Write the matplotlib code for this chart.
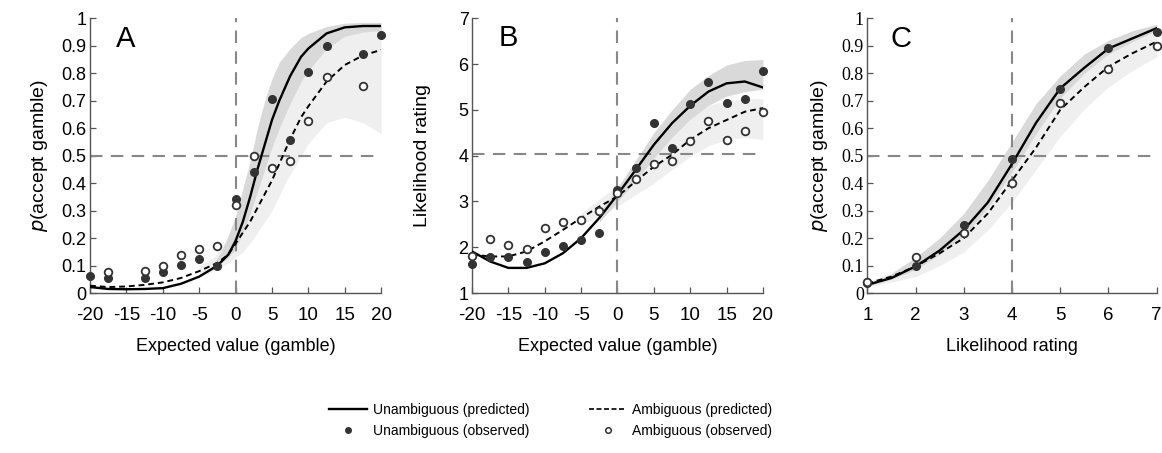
import matplotlib
matplotlib.use("Agg")
import matplotlib.pyplot as plt
from matplotlib.lines import Line2D
import numpy as np

plt.rcParams['font.family'] = ['Liberation Sans', 'DejaVu Sans']
plt.rcParams['axes.unicode_minus'] = False

# ---------------- Panel A : p(accept) vs expected value ----------------
ev_obs = [-20, -17.5, -12.5, -10, -7.5, -5, -2.5, 0, 2.5, 5, 7.5, 10, 12.5, 17.5, 20]
a_unamb_obs = [0.063, 0.055, 0.055, 0.075, 0.103, 0.125, 0.10, 0.343, 0.442, 0.705, 0.558, 0.804, 0.90, 0.87, 0.94]
ev_obs_amb = [-17.5, -12.5, -10, -7.5, -5, -2.5, 0, 2.5, 5, 7.5, 10, 12.5, 17.5]
a_amb_obs = [0.078, 0.082, 0.10, 0.14, 0.161, 0.17, 0.32, 0.50, 0.455, 0.48, 0.627, 0.788, 0.754]

ev_line = [-20, -17.5, -15, -12.5, -10, -7.5, -5, -2.5, -1, 0, 1, 2, 3, 4, 5, 6, 7.5, 9, 10, 12.5, 15, 17.5, 20]
a_unamb_pred = [0.022, 0.015, 0.014, 0.015, 0.018, 0.034, 0.06, 0.10, 0.14, 0.19, 0.26, 0.35, 0.45, 0.54, 0.63, 0.70, 0.79, 0.86, 0.89, 0.945, 0.967, 0.972, 0.972]
a_amb_pred = [0.027, 0.022, 0.024, 0.03, 0.039, 0.055, 0.08, 0.11, 0.14, 0.18, 0.22, 0.26, 0.31, 0.36, 0.41, 0.47, 0.56, 0.64, 0.68, 0.77, 0.83, 0.865, 0.885]

a_band_x = [-3, -2, -1, 0, 1, 2, 3, 4, 5, 6, 7.5, 9, 10, 12.5, 15, 17.5, 20]
a_unamb_lo = [0.09, 0.11, 0.13, 0.16, 0.22, 0.29, 0.37, 0.45, 0.53, 0.60, 0.69, 0.77, 0.81, 0.89, 0.935, 0.95, 0.955]
a_unamb_hi = [0.11, 0.15, 0.21, 0.28, 0.38, 0.48, 0.60, 0.70, 0.78, 0.84, 0.89, 0.93, 0.945, 0.97, 0.982, 0.985, 0.985]
a_amb_band_x = [-5, -3, -1, 0, 1, 2.5, 4, 5, 7, 9, 10, 12.5, 15, 17.5, 20]
a_amb_lo = [0.06, 0.08, 0.11, 0.13, 0.15, 0.20, 0.26, 0.30, 0.41, 0.50, 0.545, 0.62, 0.64, 0.62, 0.58]
a_amb_hi = [0.10, 0.13, 0.20, 0.25, 0.31, 0.40, 0.50, 0.57, 0.70, 0.80, 0.84, 0.90, 0.94, 0.955, 0.96]

# ---------------- Panel B : likelihood rating vs expected value ----------------
ev_b = [-20, -17.5, -15, -12.5, -10, -7.5, -5, -2.5, 0, 2.5, 5, 7.5, 10, 12.5, 15, 17.5, 20]
b_unamb_obs = [1.63, 1.78, 1.78, 1.68, 1.89, 2.02, 2.16, 2.32, 3.25, 3.73, 4.72, 4.16, 5.13, 5.60, 5.15, 5.23, 5.86]
b_amb_obs = [1.80, 2.18, 2.04, 1.96, 2.42, 2.56, 2.60, 2.80, 3.18, 3.49, 3.81, 3.89, 4.33, 4.75, 4.35, 4.53, 4.96]
b_unamb_pred = [1.91, 1.69, 1.55, 1.55, 1.65, 1.87, 2.20, 2.64, 3.15, 3.69, 4.24, 4.71, 5.09, 5.40, 5.58, 5.62, 5.49]
b_amb_pred = [1.84, 1.80, 1.80, 1.91, 2.13, 2.38, 2.64, 2.89, 3.11, 3.44, 3.76, 4.02, 4.35, 4.60, 4.78, 4.96, 5.04]

b_band_x = [-2.5, 0, 2.5, 5, 7.5, 10, 12.5, 15, 17.5, 20]
b_unamb_lo = [2.55, 3.00, 3.45, 3.95, 4.40, 4.80, 5.10, 5.30, 5.40, 5.45]
b_unamb_hi = [2.75, 3.30, 3.90, 4.50, 5.00, 5.45, 5.75, 5.98, 6.08, 6.10]
b_amb_band_x = [-5, -2.5, 0, 2.5, 5, 7.5, 10, 12.5, 15, 17.5, 20]
b_amb_lo = [2.50, 2.67, 2.90, 3.15, 3.40, 3.70, 3.98, 4.22, 4.35, 4.40, 4.35]
b_amb_hi = [2.75, 3.05, 3.35, 3.70, 4.10, 4.50, 4.85, 5.10, 5.20, 5.25, 5.25]

# ---------------- Panel C : p(accept) vs likelihood rating ----------------
lr_obs = [1, 2, 3, 4, 5, 6, 7]
c_unamb_obs = [0.035, 0.10, 0.248, 0.488, 0.742, 0.891, 0.949]
c_amb_obs = [0.042, 0.131, 0.218, 0.402, 0.693, 0.815, 0.90]

lr_line = [1, 1.5, 2, 2.5, 3, 3.5, 4, 4.5, 5, 5.5, 6, 6.5, 7]
c_unamb_pred = [0.03, 0.055, 0.097, 0.155, 0.23, 0.33, 0.47, 0.62, 0.745, 0.82, 0.89, 0.927, 0.964]
c_amb_pred = [0.035, 0.06, 0.097, 0.145, 0.20, 0.29, 0.41, 0.53, 0.667, 0.75, 0.824, 0.873, 0.915]
c_unamb_lo = [0.025, 0.05, 0.085, 0.14, 0.21, 0.31, 0.44, 0.58, 0.71, 0.80, 0.87, 0.915, 0.955]
c_unamb_hi = [0.035, 0.07, 0.13, 0.20, 0.29, 0.41, 0.55, 0.69, 0.79, 0.87, 0.92, 0.955, 0.978]
c_amb_lo = [0.025, 0.04, 0.06, 0.10, 0.15, 0.23, 0.33, 0.45, 0.57, 0.67, 0.75, 0.81, 0.86]
c_amb_hi = [0.04, 0.075, 0.13, 0.19, 0.26, 0.37, 0.50, 0.63, 0.75, 0.83, 0.89, 0.93, 0.96]

DARK_BAND = '#d9d9d9'
LIGHT_BAND = '#efefef'
REF = '#888888'

fig = plt.figure(figsize=(11.62, 4.53), dpi=100)
axA = fig.add_axes([0.0775, 0.353, 0.2505, 0.6066])
axB = fig.add_axes([0.4062, 0.353, 0.2504, 0.6066])
axC = fig.add_axes([0.7464, 0.353, 0.2490, 0.6066])


def style(ax):
    for s in ['top', 'right']:
        ax.spines[s].set_visible(False)
    for s in ['left', 'bottom']:
        ax.spines[s].set_color('#555555')
        ax.spines[s].set_linewidth(1.0)
    ax.tick_params(direction='in', length=4, width=0.9, color='#555555')
    ax.tick_params(axis='x', labelsize=13.5, pad=10)
    ax.tick_params(axis='y', labelsize=13, pad=2.5)


def draw(ax, x_line, un_pred, amb_pred, xo_u, un_obs, xo_a, amb_obs):
    ax.plot(x_line, un_pred, color='black', lw=1.7, zorder=3)
    ax.plot(x_line, amb_pred, color='black', lw=1.4, ls=(0, (3, 2)), zorder=3)
    ax.plot(xo_u, un_obs, 'o', ms=5.5, mfc='#333333', mec='#333333', zorder=4, clip_on=False)
    ax.plot(xo_a, amb_obs, 'o', ms=5.5, mfc='white', mec='#333333', mew=1.3, zorder=4, clip_on=False)


# A
style(axA)
axA.fill_between(a_amb_band_x, a_amb_lo, a_amb_hi, color=LIGHT_BAND, lw=0, zorder=0)
axA.fill_between(a_band_x, a_unamb_lo, a_unamb_hi, color=DARK_BAND, lw=0, zorder=1)
axA.axhline(0.5, color=REF, lw=1.5, ls=(0, (6, 4)), zorder=2)
axA.axvline(0, color=REF, lw=1.5, ls=(0, (6, 4)), zorder=2)
draw(axA, ev_line, a_unamb_pred, a_amb_pred, ev_obs, a_unamb_obs, ev_obs_amb, a_amb_obs)
axA.set_xlim(-20, 20)
axA.set_ylim(0, 1)
axA.set_xticks(np.arange(-20, 21, 5))
axA.set_yticks(np.arange(0, 1.01, 0.1))
axA.set_yticklabels(['0'] + ['%.1f' % v for v in np.arange(0.1, 0.95, 0.1)] + ['1'])
axA.set_xlabel('Expected value (gamble)', fontsize=13, labelpad=10)
axA.set_ylabel('$\\mathit{p}$(accept gamble)', fontsize=14, labelpad=8)
axA.text(-15.05, 0.925, 'A', fontsize=21, ha='center', va='center')

# B
style(axB)
axB.fill_between(b_amb_band_x, b_amb_lo, b_amb_hi, color=LIGHT_BAND, lw=0, zorder=0)
axB.fill_between(b_band_x, b_unamb_lo, b_unamb_hi, color=DARK_BAND, lw=0, zorder=1)
axB.axhline(4.04, color=REF, lw=1.5, ls=(0, (6, 4)), zorder=2)
axB.axvline(0, color=REF, lw=1.5, ls=(0, (6, 4)), zorder=2)
draw(axB, ev_b, b_unamb_pred, b_amb_pred, ev_b, b_unamb_obs, ev_b, b_amb_obs)
axB.set_xlim(-20, 20)
axB.set_ylim(1, 7)
axB.set_xticks(np.arange(-20, 21, 5))
axB.set_yticks(range(1, 8))
axB.set_xlabel('Expected value (gamble)', fontsize=13, labelpad=10)
axB.set_ylabel('Likelihood rating', fontsize=14, labelpad=20)
axB.text(-15.05, 6.57, 'B', fontsize=21, ha='center', va='center')

# C
style(axC)
axC.fill_between(lr_line, c_amb_lo, c_amb_hi, color=LIGHT_BAND, lw=0, zorder=0)
axC.fill_between(lr_line, c_unamb_lo, c_unamb_hi, color=DARK_BAND, lw=0, zorder=1)
axC.axhline(0.5, color=REF, lw=1.5, ls=(0, (6, 4)), zorder=2)
axC.axvline(4, color=REF, lw=1.5, ls=(0, (6, 4)), zorder=2)
draw(axC, lr_line, c_unamb_pred, c_amb_pred, lr_obs, c_unamb_obs, lr_obs, c_amb_obs)
axC.set_xlim(1, 7)
axC.set_ylim(0, 1)
axC.set_xticks(range(1, 8))
axC.set_yticks(np.arange(0, 1.01, 0.1))
axC.set_yticklabels(['0'] + ['%.1f' % v for v in np.arange(0.1, 0.95, 0.1)] + ['1'],
                    family=['Liberation Serif', 'DejaVu Serif'], fontsize=13)
axC.set_xlabel('Likelihood rating', fontsize=13, labelpad=10)
axC.set_ylabel('$\\mathit{p}$(accept gamble)', fontsize=14, labelpad=8)
axC.text(1.7, 0.925, 'C', fontsize=21, ha='center', va='center')

handles = [
    Line2D([], [], color='black', lw=1.7),
    Line2D([], [], ls='', marker='o', ms=4, mfc='#333333', mec='#333333'),
    Line2D([], [], color='black', lw=1.2, ls=(0, (3, 1.5))),
    Line2D([], [], ls='', marker='o', ms=4, mfc='white', mec='#333333', mew=1.1),
]
labels = ['Unambiguous (predicted)', 'Unambiguous (observed)',
          'Ambiguous (predicted)', 'Ambiguous (observed)']
fig.legend(handles, labels, loc='center', bbox_to_anchor=(0.474, 0.072), ncol=2,
           frameon=False, fontsize=10, handlelength=2.7, handletextpad=0.43,
           columnspacing=4.3, labelspacing=0.55)

fig.savefig('out.png', dpi=100)
